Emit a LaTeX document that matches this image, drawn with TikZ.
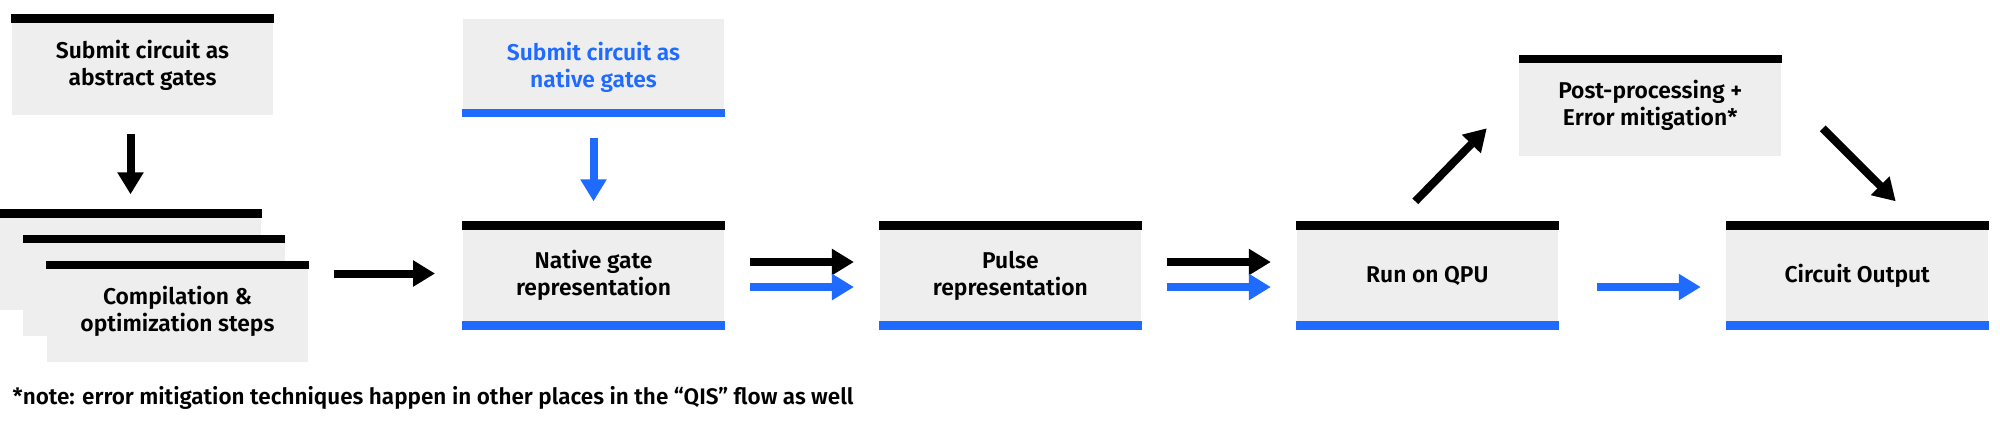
\documentclass[tikz,border=0pt]{standalone}
\usepackage{fontspec}
\setmainfont{Fira Sans}[BoldFont={* SemiBold}]
\usetikzlibrary{arrows.meta,positioning}
\definecolor{QBlue}{HTML}{1F6BFF}
\definecolor{QGrey}{HTML}{EEEEEE}
\tikzset{
    % flat grey cards, no outline
    stagebox/.style={
        rectangle,
        fill=QGrey,
        inner sep=0pt,
        minimum width=2.615cm,
        minimum height=1.07cm,
        align=center,
        font=\fontsize{6.5}{7.7}\selectfont\bfseries
    },
    smallbox/.style={
        stagebox,
        minimum height=1cm
    },
    arrow/.style={
        -{Triangle[length=0.22cm,width=0.25cm]},
        line width=0.08cm,
        color=black
    },
    bluearrow/.style={
        arrow,
        color=QBlue
    }
}
\begin{document}
\begin{tikzpicture}
    \useasboundingbox (0,0) rectangle (20,-4.23);

    \node[smallbox] (abstract) at (1.425,-0.65) {Submit circuit as\\abstract gates};

    % stacked compilation cards
    \node[smallbox] (stackA) at (1.305,-2.60) {};
    \node[smallbox] (stackB) at ([shift={(0.235,-0.255)}]stackA) {};
    \node[smallbox] (stackC) at ([shift={(0.235,-0.26)}]stackB) {Compilation \&\\optimization steps};

    \node[stagebox] (nativerep) at (5.935,-2.755) {Native gate\\representation};
    \node[stagebox, minimum height=0.98cm, text=QBlue, above=1.04cm of nativerep] (nativegates) {Submit circuit as\\native gates};
    \node[stagebox, right=1.54cm of nativerep] (pulse) {Pulse\\representation};
    \node[stagebox, right=1.54cm of pulse] (qpu) {Run on QPU};
    \node[stagebox, right=1.67cm of qpu] (output) {Circuit Output};
    \node[smallbox, above right=0.65cm and -0.40cm of qpu] (post) {Post-processing +\\Error mitigation*};

    % bars
    \foreach \n in {abstract,stackA,stackB,stackC,post,nativerep,pulse,qpu,output}
        \fill (\n.north west) rectangle ([yshift=-0.085cm]\n.north east);
    \foreach \n in {nativegates,nativerep,pulse,qpu,output}
        \fill[QBlue] (\n.south west) rectangle ([yshift=0.085cm]\n.south east);

    \node[anchor=west, inner sep=0pt, font=\fontsize{6.4}{7.7}\selectfont\bfseries] (note) at (0.12,-3.98)
        {*note: error mitigation techniques happen in other places in the “QIS” flow as well};

    % Arrows
    \draw[arrow] (stackA.north |- abstract.south) ++(0,-0.18) -- ([yshift=0.15cm]stackA.north);
    \draw[arrow] (stackC.east |- nativerep.west) ++(0.25,0.02) -- ([shift={(-0.27,0.02)}]nativerep.west);
    \draw[bluearrow] ([yshift=-0.21cm]nativegates.south) -- ([yshift=0.2cm]nativerep.north);
    \draw[arrow] ([shift={(0.25,0.135)}]nativerep.east) -- ([shift={(-0.25,0.135)}]pulse.west);
    \draw[bluearrow] ([shift={(0.25,-0.115)}]nativerep.east) -- ([shift={(-0.25,-0.115)}]pulse.west);
    \draw[arrow] ([shift={(0.25,0.135)}]pulse.east) -- ([shift={(-0.25,0.135)}]qpu.west);
    \draw[bluearrow] ([shift={(0.25,-0.115)}]pulse.east) -- ([shift={(-0.25,-0.115)}]qpu.west);
    \draw[arrow] ([shift={(-0.12,0.2)}]qpu.north) -- ([shift={(-0.32,0.28)}]post.south west);
    \draw[arrow] ([shift={(0.41,0.28)}]post.south east) -- ([shift={(0.385,0.2)}]output.north);
    \draw[bluearrow] ([shift={(0.38,-0.115)}]qpu.east) -- ([shift={(-0.25,-0.115)}]output.west);
\end{tikzpicture}
\end{document}
